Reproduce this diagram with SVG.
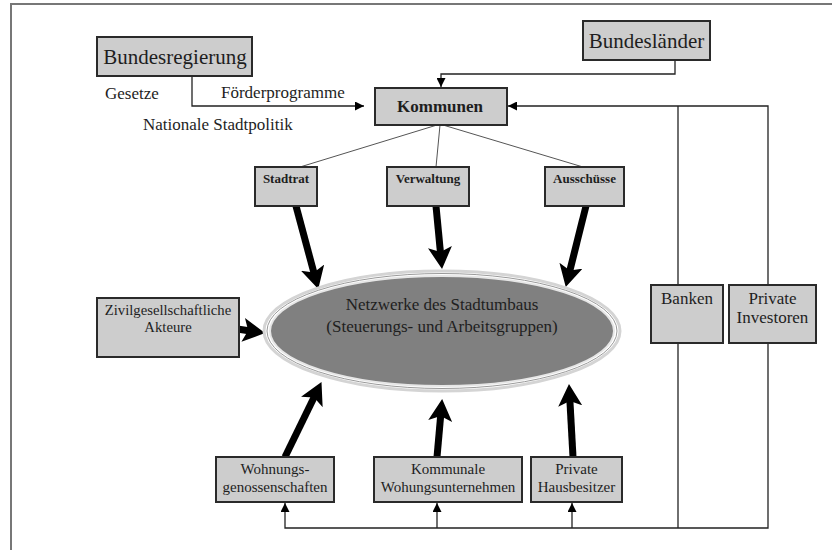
<svg xmlns="http://www.w3.org/2000/svg" width="832" height="550" viewBox="0 0 832 550">
<style>
.box{fill:#cdcdcd;stroke:#2a2a2a;stroke-width:2}
text{font-family:'Liberation Serif','Times New Roman','DejaVu Serif',serif;fill:#1e1e1e}
.t{text-anchor:middle}
.b{font-weight:bold}
.thin{fill:none;stroke:#222;stroke-width:1.3}
.gray{fill:none;stroke:#555;stroke-width:1}
.thick{fill:none;stroke:#000;stroke-width:7}
</style>
<defs>
<marker id="ah" viewBox="0 0 10 10" markerWidth="9" markerHeight="9" refX="10" refY="5" orient="auto" markerUnits="userSpaceOnUse">
<path d="M0,0 L10,5 L0,10 z" fill="#000"/>
</marker>
<marker id="big" viewBox="0 0 22 24" markerWidth="22" markerHeight="24" refX="9" refY="12" orient="auto" markerUnits="userSpaceOnUse">
<path d="M0,0 L22,12 L0,24 L5,12 z" fill="#000"/>
</marker>
</defs>
<rect width="832" height="550" fill="#fff"/>
<path d="M11,550 L11,4 L832,4" fill="none" stroke="#777" stroke-width="2"/>

<g id="connectors">
<path class="thin" d="M192,76 L192,106 L364,106" marker-end="url(#ah)"/>
<path class="thin" d="M675,60 L675,74 L441,74 L441,87" marker-end="url(#ah)"/>
<path class="thin" d="M768,285 L768,106 L508,106" marker-end="url(#ah)"/>
<path class="thin" d="M678,106 L678,285"/>
<path class="thin" d="M678,343 L678,528"/>
<path class="thin" d="M768,343 L768,528 L285,528 L285,503" marker-end="url(#ah)"/>
<path class="thin" d="M437,528 L437,503" marker-end="url(#ah)"/>
<path class="thin" d="M572,528 L572,503" marker-end="url(#ah)"/>
<path class="gray" d="M437,125 L300,167"/>
<path class="gray" d="M440,125 L436,167"/>
<path class="gray" d="M443,125 L583,167"/>
<path class="thick" d="M296,206 L314.9,276.4" marker-end="url(#big)"/>
<path class="thick" d="M436,206 L440.8,256.1" marker-end="url(#big)"/>
<path class="thick" d="M586,206 L568.9,274.4" marker-end="url(#big)"/>
<path class="thick" d="M224,327 L252.1,331.2" marker-end="url(#big)"/>
<path class="thick" d="M285,457 L315.8,393.8" marker-end="url(#big)"/>
<path class="thick" d="M437,457 L441,412" marker-end="url(#big)"/>
<path class="thick" d="M573,457 L569.7,397" marker-end="url(#big)"/>
</g>

<g id="bundesregierung">
<rect class="box" x="97" y="37" width="155" height="39"/>
<text class="t" x="175" y="64" font-size="21">Bundesregierung</text>
</g>
<g id="bundeslaender">
<rect class="box" x="583" y="21" width="127" height="39"/>
<text class="t" x="646.5" y="48" font-size="21">Bundesländer</text>
</g>
<g id="labels">
<text x="105" y="99" font-size="17">Gesetze</text>
<text x="221" y="98" font-size="17">Förderprogramme</text>
<text x="143" y="130" font-size="17">Nationale Stadtpolitik</text>
</g>
<g id="kommunen">
<rect class="box" x="375" y="88" width="132" height="37"/>
<text class="t b" x="440" y="112" font-size="17">Kommunen</text>
</g>
<g id="stadtrat">
<rect class="box" x="255" y="167" width="62" height="39"/>
<text class="t b" x="286" y="183" font-size="13">Stadtrat</text>
</g>
<g id="verwaltung">
<rect class="box" x="387" y="167" width="82" height="39"/>
<text class="t b" x="428" y="183" font-size="13">Verwaltung</text>
</g>
<g id="ausschuesse">
<rect class="box" x="545" y="167" width="79" height="39"/>
<text class="t b" x="584.5" y="183" font-size="13">Ausschüsse</text>
</g>
<g id="netzwerke">
<ellipse cx="442" cy="331" rx="178" ry="60" fill="#fff" stroke="#d4d4d4" stroke-width="3"/>
<ellipse cx="442" cy="331" rx="175" ry="57.5" fill="none" stroke="#9a9a9a" stroke-width="1"/>
<ellipse cx="442" cy="331" rx="172" ry="55" fill="#808080" stroke="#e6e6e6" stroke-width="2"/>
<text class="t" x="442" y="310" font-size="17">Netzwerke des Stadtumbaus</text>
<text class="t" x="442" y="332" font-size="17">(Steuerungs- und Arbeitsgruppen)</text>
</g>
<g id="zivil">
<rect class="box" x="97" y="298" width="142" height="59"/>
<text class="t" x="168" y="315" font-size="14.7">Zivilgesellschaftliche</text>
<text class="t" x="168" y="332" font-size="14.7">Akteure</text>
</g>
<g id="banken">
<rect class="box" x="651" y="285" width="72" height="58"/>
<text class="t" x="687" y="304" font-size="17">Banken</text>
</g>
<g id="investoren">
<rect class="box" x="729" y="285" width="87" height="58"/>
<text class="t" x="772.5" y="304" font-size="17">Private</text>
<text class="t" x="772.5" y="323" font-size="17">Investoren</text>
</g>
<g id="wohnungsgenossenschaften">
<rect class="box" x="216" y="457" width="118" height="45"/>
<text class="t" x="275" y="474" font-size="15">Wohnungs-</text>
<text class="t" x="275" y="492" font-size="15">genossenschaften</text>
</g>
<g id="kommunale">
<rect class="box" x="374" y="457" width="148" height="45"/>
<text class="t" x="448" y="474" font-size="15">Kommunale</text>
<text class="t" x="448" y="492" font-size="15">Wohungsunternehmen</text>
</g>
<g id="hausbesitzer">
<rect class="box" x="531" y="457" width="91" height="45"/>
<text class="t" x="576.5" y="474" font-size="15">Private</text>
<text class="t" x="576.5" y="492" font-size="15">Hausbesitzer</text>
</g>
</svg>
